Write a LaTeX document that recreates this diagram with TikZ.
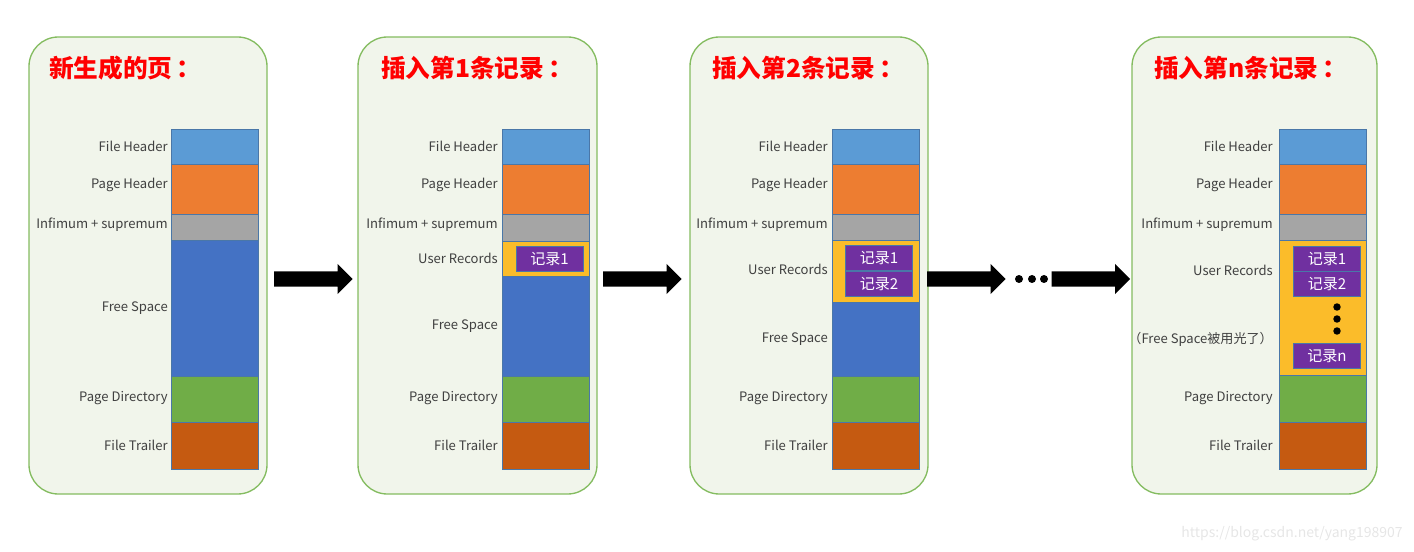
\documentclass[tikz,border=0pt]{standalone}
\usepackage{fontspec}
\setmainfont{Noto Sans CJK SC}
\usepackage{tikz}
\usetikzlibrary{shapes.arrows,positioning}

\definecolor{panelline}{HTML}{84BC60}
\definecolor{panelfill}{HTML}{F1F5EB}
\definecolor{segline}{HTML}{4A77A8}
\definecolor{fhblue}{HTML}{5B9BD5}
\definecolor{phorange}{HTML}{ED7D31}
\definecolor{infgray}{HTML}{A5A5A5}
\definecolor{freeblue}{HTML}{4472C4}
\definecolor{pdgreen}{HTML}{70AD47}
\definecolor{ftbrown}{HTML}{C55A11}
\definecolor{uryellow}{HTML}{FBBC2A}
\definecolor{recpurple}{HTML}{7030A0}
\definecolor{lblgray}{HTML}{404040}
\definecolor{markgray}{HTML}{E6E6E6}

\tikzset{
  panel/.style = {draw=panelline, fill=panelfill, line width=1pt, rounded corners=22pt},
  seg/.style = {draw=segline, line width=0.5pt},
  lbl/.style = {anchor=east, inner sep=0pt, text=lblgray, font=\fontsize{9.8}{11}\selectfont},
  rec/.style = {draw=segline, fill=recpurple, text=white, inner sep=0pt,
    minimum width=50.5pt, minimum height=18.8pt, font=\fontsize{11.3}{12}\selectfont},
  title/.style = {anchor=west, inner sep=0pt, text=red, font=\fontsize{18.5}{20}\selectfont\bfseries},
  bigarrow/.style = {single arrow, fill=black, draw=none, inner sep=5.6pt,
    minimum height=59pt, single arrow head extend=5.6pt, single arrow head indent=0pt},
  dot/.style = {fill=black}
}

% one column of the page: left x, list of top/bottom/colour
\newcommand{\pagecol}[2]{%
  \foreach \t/\b/\c in {#2} \draw[seg, fill=\c] (#1,\t) rectangle (#1+87,\b);}

\begin{document}
\begin{tikzpicture}[x=0.75pt, y=-0.75pt]
\useasboundingbox (0,0) rectangle (1414,552);

% panels
\foreach \l/\r in {29/267, 358/597, 690/928, 1132/1377}
  \draw[panel] (\l,37) rectangle (\r,494);

% titles
\node[title] (t1) at (49,68) {新生成的页\,：};
\node[title] (t2) at (381,68) {插入第1条记录\,：};
\node[title] (t3) at (712,68) {插入第2条记录\,：};
\node[title] (t4) at (1154,68) {插入第n条记录\,：};

% page 1
\pagecol{171}{129/164/fhblue, 164/214/phorange, 214/240/infgray,
  240/376/freeblue, 376/422/pdgreen, 422/469/ftbrown}
\foreach \y/\txt [count=\i] in {146/File Header, 185/Page Header,
  225/Infimum + supremum, 308/Free Space, 398/Page Directory, 445/File Trailer}
  \node[lbl] (a\i) at (168,\y) {\txt};

% page 2
\pagecol{502}{129/164/fhblue, 164/214/phorange, 214/241/infgray,
  241/276/uryellow, 276/376/freeblue, 376/422/pdgreen, 422/469/ftbrown}
\foreach \y/\txt [count=\i] in {146/File Header, 185/Page Header,
  225/Infimum + supremum, 258/User Records, 326/Free Space,
  398/Page Directory, 445/File Trailer}
  \node[lbl] (b\i) at (498,\y) {\txt};
\node[rec] (b-r1) at (549.5,258.5) {记录1};

% page 3
\pagecol{832}{129/164/fhblue, 164/214/phorange, 214/240/infgray,
  240/302/uryellow, 302/376/freeblue, 376/422/pdgreen, 422/469/ftbrown}
\foreach \y/\txt [count=\i] in {146/File Header, 185/Page Header,
  225/Infimum + supremum, 269/User Records, 339/Free Space,
  398/Page Directory, 445/File Trailer}
  \node[lbl] (c\i) at (828,\y) {\txt};
\node[rec] (c-r1) at (879,258) {记录1};
\node[rec] (c-r2) at (879,283.5) {记录2};

% page 4
\pagecol{1279}{129/164/fhblue, 164/214/phorange, 214/240/infgray,
  240/375/uryellow, 375/422/pdgreen, 422/469/ftbrown}
\foreach \y/\txt [count=\i] in {146/File Header, 185/Page Header,
  225/Infimum + supremum, 270/User Records, 339/（Free Space被用光了）,
  398/Page Directory, 445/File Trailer}
  \node[lbl] (d\i) at (1273,\y) {\txt};
\node[rec] (d-r1) at (1327,258.5) {记录1};
\node[rec] (d-r2) at (1327,283.5) {记录2};
\node[rec] (d-rn) at (1327,356) {记录n};
\foreach \y in {307,319,331}
  \fill[dot] (1337,\y) circle[radius=2.8pt];

% arrows between pages
\node[bigarrow] (ar1) at (309.5,279) {};
\node[bigarrow] (ar2) at (638.5,279) {};
\node[bigarrow] (ar3) at (962.5,279) {};
\node[bigarrow] (ar4) at (1087,279) {};
\foreach \x in {1019,1032,1044}
  \fill[dot] (\x,279) circle[radius=3pt];

\node[anchor=east, inner sep=0pt, text=markgray, font=\fontsize{10.5}{12}\selectfont]
  (mark) at (1403,534) {https://blog.csdn.net/yang198907};
\end{tikzpicture}
\end{document}
